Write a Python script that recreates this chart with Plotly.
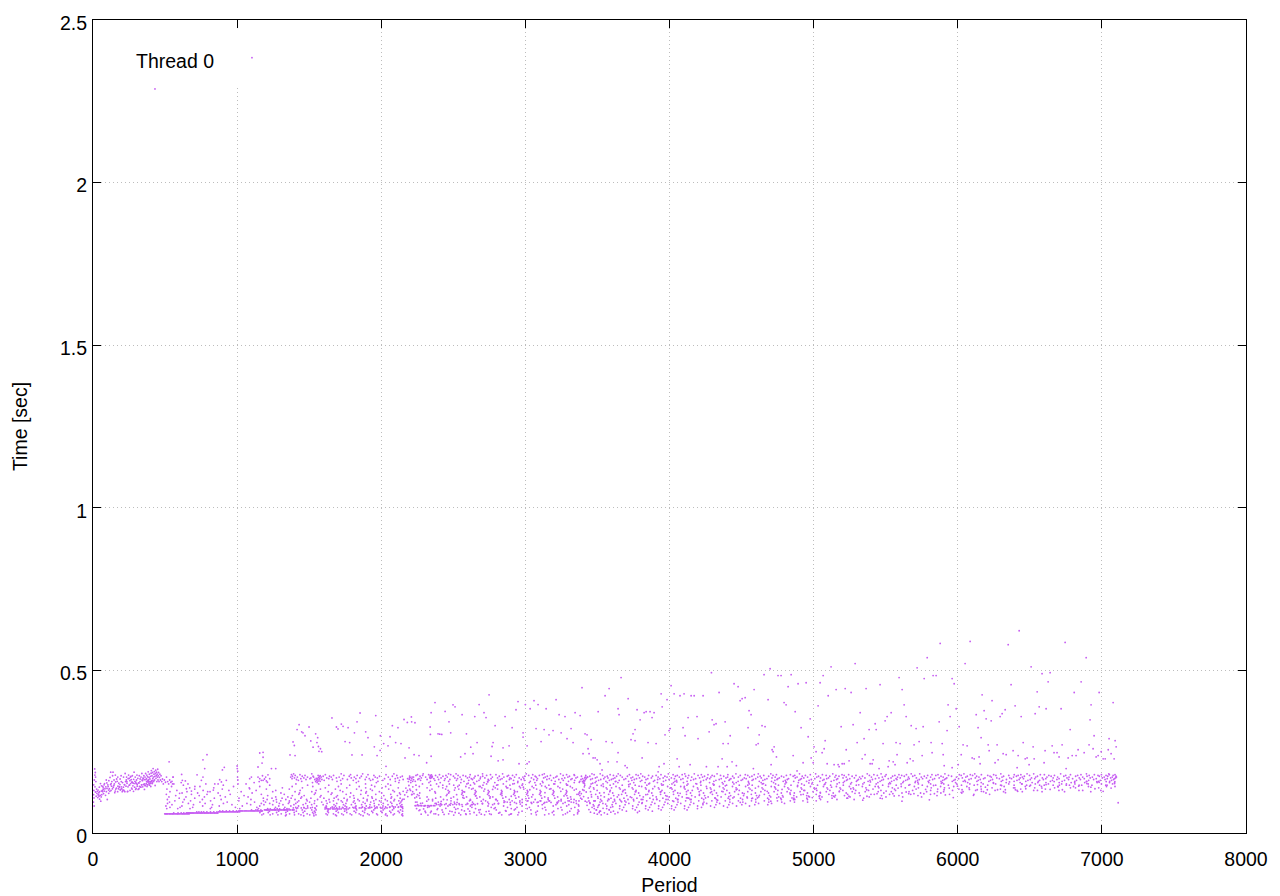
import plotly.graph_objects as go

# --- values ---
isolated_high = [(430, 2.288), (1103, 2.384)]

sparse_above_band = [
(528,.219),(791,.241),(763,.225),(1157,.246),(1180,.248),(1180,.233),(1173,.215),(1145,.203),(1367,.240),(1402,.238),
(1388,.280),(1397,.269),(1430,.333),(1416,.318),(1448,.311),(1457,.308),(1471,.299),(1499,.326),(1511,.283),(1527,.264),
(1545,.305),(1559,.293),(1554,.278),(1564,.266),(1568,.251),(1587,.250),(1578,.259),(1658,.354),(1689,.326),(1700,.320),
(1723,.335),(1735,.328),(1770,.324),(1749,.281),(1781,.278),(1797,.240),(1814,.308),(1832,.342),(1853,.369),(1867,.240),
(1892,.311),(1908,.293),(1952,.265),(1962,.361),(1971,.238),(1994,.299),(1992,.254),(2017,.275),(2033,.205),(2047,.268),
(2061,.296),(2077,.330),(2100,.278),(2116,.324),(2137,.275),(2158,.349),(2165,.231),(2181,.340),(2193,.262),(2209,.357),
(2211,.342),(2228,.241),(2234,.339),(2262,.238),(2315,.216),(2339,.326),(2341,.303),(2346,.236),(2346,.370),(2373,.401),
(2394,.305),(2406,.304),(2420,.303),(2443,.374),(2470,.342),(2482,.308),(2498,.394),(2512,.388),(2551,.234),(2561,.364),
(2581,.244),(2591,.305),(2621,.264),(2637,.244),(2649,.358),(2665,.278),(2679,.395),(2713,.370),(2727,.355),(2748,.425),
(2762,.236),(2769,.266),(2776,.278),(2790,.330),(2811,.222),(2845,.262),(2845,.225),(2859,.358),(2887,.268),(2908,.324),
(2935,.379),(2949,.404),(2956,.213),(2984,.308),(2984,.295),(3012,.268),(3012,.213),(3026,.219),(3000,.395),(3033,.382),
(3060,.407),(3074,.321),(3088,.395),(3109,.281),(3130,.318),(3144,.382),(3164,.302),(3192,.315),(3213,.410),(3234,.364),
(3248,.308),(3275,.358),(3289,.290),(3317,.321),(3331,.278),(3345,.370),(3380,.361),(3393,.447),(3400,.244),(3414,.305),
(3428,.302),(3435,.259),(3442,.244),(3456,.287),(3470,.231),(3484,.231),(3498,.225),(3505,.373),(3518,.213),(3532,.194),
(3553,.422),(3560,.281),(3574,.219),(3581,.444),(3602,.278),(3636,.219),(3643,.382),(3643,.247),(3650,.364),(3664,.478),
(3692,.207),(3706,.201),(3713,.413),(3733,.287),(3747,.305),(3761,.318),(3761,.284),(3775,.379),(3796,.348),(3810,.231),
(3824,.370),(3838,.373),(3851,.278),(3865,.373),(3879,.355),(3893,.370),(3907,.275),(3921,.188),(3928,.204),(3942,.428),
(3949,.388),(3962,.213),(3969,.302),(3983,.410),(3997,.315),(4004,.321),(4011,.453),(4032,.428),(4053,.228),(4067,.204),
(4073,.422),(4094,.324),(4101,.428),(4108,.299),(4129,.355),(4143,.210),(4150,.422),(4171,.422),(4191,.358),(4198,.290),
(4233,.422),(4256,.204),(4275,.311),(4291,.493),(4296,.348),(4309,.333),(4323,.336),(4337,.204),(4344,.432),(4365,.228),
(4372,.275),(4386,.342),(4400,.204),(4407,.275),(4421,.299),(4434,.219),(4448,.459),(4464,.207),(4476,.450),(4490,.407),
(4504,.413),(4525,.416),(4545,.324),(4552,.376),(4566,.364),(4582,.198),(4587,.441),(4601,.271),(4615,.275),(4622,.302),
(4642,.330),(4656,.487),(4663,.327),(4684,.410),(4698,.505),(4705,.210),(4712,.256),(4719,.250),(4726,.265),(4742,.234),
(4753,.484),(4774,.484),(4795,.401),(4809,.394),(4823,.450),(4844,.487),(4858,.238),(4872,.373),(4885,.191),(4892,.459),
(4913,.324),(4927,.216),(4948,.462),(4962,.296),(4976,.351),(4983,.231),(4997,.216),(5003,.265),(5017,.250),(5031,.391),
(5045,.462),(5059,.247),(5066,.484),(5073,.259),(5080,.284),(5094,.213),(5101,.422),(5121,.511),(5142,.210),(5156,.441),
(5170,.210),(5177,.204),(5191,.327),(5198,.213),(5212,.213),(5219,.444),(5226,.256),(5246,.222),(5260,.432),(5274,.333),
(5288,.521),(5302,.278),(5323,.370),(5337,.228),(5350,.290),(5357,.241),(5364,.444),(5385,.318),(5392,.213),(5406,.213),
(5413,.225),(5427,.336),(5434,.318),(5454,.198),(5461,.456),(5482,.275),(5496,.345),(5510,.358),(5517,.204),(5524,.222),
(5538,.370),(5552,.219),(5565,.210),(5572,.278),(5579,.241),(5593,.478),(5600,.275),(5614,.441),(5628,.394),(5642,.358),
(5649,.216),(5670,.228),(5677,.330),(5690,.222),(5697,.271),(5711,.321),(5718,.508),(5732,.281),(5753,.238),(5760,.327),
(5767,.475),(5788,.539),(5815,.278),(5822,.247),(5829,.484),(5850,.484),(5871,.342),(5878,.583),(5892,.275),(5899,.241),
(5906,.207),(5926,.315),(5933,.394),(5947,.358),(5961,.475),(5961,.201),(5975,.459),(5989,.382),(6003,.210),(6010,.327),
(6024,.241),(6037,.271),(6051,.521),(6065,.268),(6086,.589),(6100,.231),(6114,.228),(6128,.364),(6141,.324),(6148,.234),
(6155,.213),(6162,.293),(6169,.425),(6183,.376),(6197,.351),(6211,.271),(6218,.253),(6232,.345),(6238,.407),(6259,.216),
(6273,.271),(6280,.225),(6294,.358),(6308,.367),(6315,.244),(6329,.379),(6336,.241),(6350,.579),(6370,.456),(6384,.253),
(6398,.391),(6412,.201),(6419,.238),(6426,.622),(6440,.358),(6454,.278),(6468,.228),(6481,.231),(6495,.210),(6509,.511),
(6523,.265),(6530,.228),(6537,.367),(6551,.434),(6565,.388),(6585,.490),(6599,.216),(6606,.253),(6613,.382),(6627,.465),
(6641,.493),(6655,.268),(6668,.247),(6689,.247),(6703,.234),(6717,.382),(6724,.271),(6745,.586),(6752,.198),(6766,.231),
(6780,.318),(6794,.238),(6808,.432),(6821,.238),(6835,.256),(6856,.465),(6877,.247),(6891,.539),(6911,.271),(6918,.348),
(6925,.394),(6939,.259),(6946,.299),(6960,.234),(6974,.238),(6981,.432),(6995,.250),(7009,.228),(7023,.228),(7044,.256),
(7050,.290),(7064,.244),(7078,.401),(7085,.228),(7092,.284),(7099,.265),(7113,.093),
]

early_cloud = [
(3,.095),(4,.118),(6,.131),(7,.108),(8,.083),(5,.148),(9,.163),(12,.197),(13,.178),(16,.186),(18,.172),(20,.158),(14,.142),(17,.126),(22,.113),
(25,.135),(27,.122),(29,.128),(36,.117),(33,.109),(35,.132),(41,.124),(38,.119),(45,.127),(42,.113),(44,.141),(46,.104),(58,.129),(50,.116),(52,.152),
(54,.098),(65,.131),(57,.111),(59,.145),(61,.118),(72,.134),(68,.143),(67,.127),(80,.152),(71,.139),(73,.121),(92,.163),(77,.148),(79,.129),(118,.171),
(83,.136),(96,.154),(87,.116),(89,.142),(110,.161),(93,.127),(103,.148),(97,.137),(99,.103),(126,.152),(108,.132),(105,.143),(131,.158),(109,.122),(136,.176),
(113,.136),(122,.149),(117,.128),(146,.163),(141,.141),(123,.187),(125,.131),(157,.157),(129,.144),(151,.124),(164,.166),(135,.136),(148,.151),(139,.187),(154,.129),
(172,.172),(145,.146),(158,.135),(168,.159),(171,.127),(183,.142),(155,.178),(191,.133),(179,.153),(188,.166),(163,.138),(203,.127),(187,.149),(196,.158),(213,.132),
(173,.144),(212,.172),(177,.136),(221,.127),(205,.155),(183,.141),(231,.163),(218,.149),(189,.133),(241,.128),(226,.158),(195,.176),(197,.142),(199,.136),(244,.167),
(236,.153),(252,.147),(207,.132),(256,.161),(211,.141),(263,.174),(273,.156),(217,.129),(219,.148),(268,.138),(223,.183),(282,.165),(291,.152),(229,.144),(296,.134),
(233,.172),(235,.158),(307,.149),(239,.127),(302,.163),(243,.142),(316,.154),(247,.178),(319,.136),(251,.168),(253,.147),(326,.158),(257,.131),(259,.172),(261,.152),
(331,.141),(265,.164),(338,.148),(269,.156),(271,.135),(273,.176),(343,.161),(277,.145),(279,.153),(281,.128),(349,.168),(285,.187),(356,.151),(289,.141),(291,.159),
(293,.172),(361,.146),(297,.156),(299,.137),(367,.164),(303,.152),(305,.178),(307,.144),(372,.158),(311,.168),(376,.149),(313,.134),(381,.162),(319,.154),(321,.176),
(323,.143),(386,.159),(327,.166),(391,.151),(331,.141),(333,.172),(396,.157),(337,.148),(339,.183),(341,.163),(401,.153),(345,.142),(347,.169),(407,.158),(351,.149),
(353,.176),(355,.164),(357,.134),(412,.154),(361,.172),(363,.146),(365,.183),(416,.161),(369,.152),(371,.167),(373,.178),(375,.143),(377,.157),(379,.173),(381,.148),
(383,.188),(385,.163),(387,.154),(389,.171),(391,.181),(393,.147),(395,.166),(397,.158),(399,.174),(401,.143),(403,.184),(405,.192),(407,.161),(409,.176),(411,.152),
(413,.186),(415,.167),(417,.198),(419,.172),(421,.158),(423,.181),(425,.189),(427,.163),(429,.174),(431,.146),(433,.183),(435,.193),(437,.168),(439,.176),(441,.187),
(443,.158),(445,.181),(447,.172),(449,.196),(451,.163),(453,.176),(455,.186),(458,.158),(461,.171),(464,.181),(468,.163),(472,.176),(477,.158),(482,.166),(488,.151),
(495,.163),(503,.156),(510,.172),(518,.158),(525,.151),(532,.163),(540,.156),(548,.159),(552,.151),(556,.172),
]

early_scatter = [
(1000,.206),(1001,.198),(1004,.19),(1006,.151),(898,.194),(911,.202),(775,.198),(763,.172),(752,.162),(722,.179),(659,.151),(641,.16),(620,.162),(615,.18),(555,.172),
(1145,.172),(1168,.162),(1198,.172),(1226,.167),(1238,.198),(1268,.198),(1214,.179),(1157,.167),(1180,.162),(1203,.16),(1087,.167),(1099,.172),(1087,.136),(879,.164),(891,.157),
(868,.151),(845,.151),(925,.162),(1176,.176),(1190,.166),(1153,.158),(1210,.156),(1003,.172),(1005,.163),(835,.132),(796,.127),(707,.143),(683,.129),(648,.136),(601,.122),
]

dense_spots = [
(1545,.158),(1552,.162),(1558,.166),(1564,.170),(1571,.173),(1561,.159),(1549,.168),(1576,.176),(1568,.163),(1555,.155),
(2188,.158),(2194,.165),(2200,.171),(2206,.162),(2212,.167),(2218,.159),(2197,.175),(2205,.155),(2214,.172),(2224,.164),
(2336,.172),(2340,.177),(2345,.174),(2350,.170),(2342,.168),(2348,.179),(2354,.173),
(3396,.158),(3402,.154),(3407,.157),(3412,.161),(3418,.165),(3424,.169),(3430,.172),(3404,.161),(3410,.152),(3416,.172),
]

# points around the two narrow breaks in the low band, and loose points through the band
break_fill = [
(2152,.128),(2163,.117),(2171,.138),(2158,.104),(2176,.125),(2184,.112),(2192,.146),(2203,.131),(2211,.118),(2219,.142),(2227,.121),(2233,.108),(2244,.133),(2238,.095),(2251,.118),
(2262,.069),(2277,.058),(2286,.092),(2294,.074),(2308,.063),(2316,.098),(2324,.055),(2333,.081),(2347,.067),(2356,.103),(2366,.059),(2374,.091),(2388,.072),(2397,.056),(2408,.083),
(2416,.097),(2427,.064),(2436,.057),(2448,.076),(2457,.102),(2468,.059),(2479,.086),(2491,.066),(2503,.055),(2517,.073),(2526,.094),(2539,.061),(2551,.056),(2563,.082),(2577,.068),
(2589,.057),(2602,.074),(2616,.059),(2631,.087),(2644,.063),(2662,.055),(2687,.072),(2694,.058),(2728,.066),(2763,.057),(2791,.078),(2815,.061),(2862,.069),(2897,.058),(2931,.074),
(3388,.121),(3392,.104),(3398,.133),(3404,.112),(3409,.142),(3415,.098),(3422,.126),(3428,.085),(3436,.108),(3441,.072),(3447,.093),(3452,.064),(3458,.118),(3463,.079),(3471,.087),
(3478,.061),(3484,.099),(3493,.071),(3499,.058),(3507,.084),(3516,.067),(3526,.056),(3539,.076),(3548,.062),(3557,.089),(3569,.058),(3581,.072),(3593,.064),(3606,.081),(3622,.059),
]

loose_band_points = [
(2508,.132),(2523,.118),(2541,.147),(2566,.109),(2578,.126),(2603,.153),(2619,.101),(2637,.137),(2655,.114),(2679,.143),(2694,.098),(2712,.129),(2739,.157),(2756,.111),(2773,.134),
(2794,.103),(2809,.148),(2836,.121),(2858,.096),(2871,.139),(2902,.113),(2923,.152),(2944,.127),(2965,.089),(2986,.141),(3004,.106),(3031,.133),(3052,.118),(3066,.155),(3089,.095),
(3113,.145),(3136,.124),(3158,.108),(3177,.136),(3204,.151),(3221,.091),(3246,.128),(3268,.114),(3293,.147),(3317,.104),(3339,.132),(3358,.119),(3374,.156),(3443,.138),(3467,.153),
(3502,.112),(3527,.146),(3546,.124),(3576,.104),(3598,.139),(3624,.158),(3647,.117),(3668,.096),(3691,.133),(3717,.149),(3738,.109),(3763,.127),(3789,.144),(3811,.093),(3836,.118),
(3862,.153),(3884,.136),(3911,.104),(3936,.126),(3957,.148),(3983,.113),(4006,.139),(4029,.097),(4051,.157),(4074,.122),(4103,.143),(4126,.108),(4158,.131),(4183,.152),(4207,.116),
(4232,.091),(4259,.137),(4284,.124),(4309,.149),(4334,.101),(4363,.128),(4387,.145),(4412,.112),(4439,.156),(4463,.133),(4491,.094),(4518,.121),(4543,.147),(4571,.106),(4596,.138),
(4624,.116),(4652,.152),(4678,.128),(4703,.098),(4729,.142),(4758,.111),(4781,.134),(4807,.157),(4836,.123),(4861,.103),(4889,.146),(4912,.118),(4938,.131),(4967,.154),(4991,.109),
(5018,.137),(5046,.125),(5074,.149),(5097,.096),(5124,.141),(5151,.116),(5179,.129),(5206,.155),(5231,.107),(5258,.136),(5287,.122),(5313,.148),(5341,.101),(5368,.133),(5394,.157),
(5421,.119),(5448,.143),(5476,.106),(5503,.129),(5533,.152),(5559,.114),(5586,.138),(5613,.098),(5642,.126),(5668,.149),(5696,.121),(5723,.156),(5749,.111),(5777,.134),(5803,.102),
(5832,.146),(5859,.127),(5886,.153),(5914,.117),(5941,.138),(5969,.109),(5998,.144),(6024,.125),(6053,.158),(6081,.134),(6109,.116),(6137,.149),(6164,.128),(6192,.141),(6221,.119),
(6248,.153),(6276,.133),(6304,.146),(6331,.124),(6359,.157),(6387,.139),(6416,.128),(6444,.151),(6472,.136),(6499,.144),(6527,.131),(6556,.155),(6584,.138),(6613,.149),(6641,.134),
(6669,.158),(6697,.142),(6726,.133),(6754,.151),(6782,.139),(6811,.156),(6839,.144),(6867,.131),(6896,.152),(6924,.141),(6952,.136),(6981,.156),(7009,.128),(7036,.147),(7064,.138),(7088,.152),
]

streak_levels = {
.059:[498,503,507,511,516,521,528,533,537,543,549,553,558,564,571,577,583,587,592,598,604,611,618,623,629,635,641,648,655,661,668],
.0615:[560,590,612,630,648,655,662,669,676,682,689,695,701,708,715,722,728,735,742,748,755,762,770,776,783,790,797,804,812,818,825,832,840,846,853,860,866],
.065:[720,735,752,768,790,815,838,860,872,878,885,892,899,905,912,918,925,932,939,946,954,961,968,975,982,988,995,1002,1010,1018],
.068:[880,900,925,948,972,996,1012,1019,1026,1033,1040,1049,1058,1066,1075,1083,1092,1100,1108,1115,1122,1131,1140,1149,1158,1166,1175],
.071:[1100,1130,1165,1190,1198,1205,1213,1220,1229,1238,1245,1252,1260,1268,1277,1285,1293,1302,1310,1318,1326,1335,1342,1350,1361,1372,1384,1395],
.074:[1230,1260,1295,1325,1360,1610,1628,1636,1645,1662,1671,1680,1700,1711,1722,1744,1770],
.077:[1390,1420,1445,1465,1490,1510,1540,1650,1690,1735,1780,1810,1822,1848,1860,1885,1910,1921,1958,1971,1997,2010,2040],
.08:[1620,1660,1710,1760,1820,1870,1920,1970,2030,2060,2085,2097,2120,2139,2148],
.084:[2235,2241,2255,2262,2275,2281,2300,2307,2322,2330,2342,2349,2363,2372],
.0875:[2385,2400,2418,2440,2473,2497,2522,2560,2588,2626],
.09:[2412,2450,2510,2540,2600,2640,2668,2702,2745,2785,2812],
.094:[2852,2895,2925,2978,3040,3082,3135,3178,3220,3276,3335],
.0985:[3012,3107,3164,3248,3305,3372,3441,3475,3530,3620,3690],
.103:[3580,3655,3750,3815,3912,3990,4055,4150],
.108:[4118,4250,4315,4440,4540,4610,4745,4850],
.113:[4965,5038,5140,5245,5370],
.121:[5440,5550,5660,5765,5838],
.133:[5905,6030,6135,6205,6330,6400],
.147:[6505,6600,6705,6775,6860],
.158:[6895,6965,7030,7090],
}

band_rows = {
.182:[1392,1518,1722,1871,2088,2291,2467,2519,2703,2842,3006,3131,3244,3462,3519,3644,3801,3992,4106,4172,4330,4461,4616,4703,4902,5014,5133,5372,5468,5677,5736,5911,6043,6118,6299,6481,6527,6714,6893,7048],
.1795:[1377,1436,1612,1787,1908,2033,2251,2329,2404,2482,2617,2758,2796,2937,3051,3118,3286,3338,3477,3588,3722,3768,3941,4025,4088,4221,4267,4405,4526,4588,4742,4839,4977,5061,5197,5243,5418,5503,5592,5644,5821,5863,6011,6087,6164,6249,6392,6438,6573,6601,6782,6855,6948,6997,7052,7091],
.177:[1403,1471,1562,1669,1741,1833,1949,2108,2241,2287,2377,2449,2533,2568,2672,2731,2883,2911,3023,3097,3174,3262,3341,3419,3536,3611,3659,3783,3855,3907,4054,4133,4198,4296,4354,4491,4543,4654,4718,4811,4869,4943,5087,5155,5212,5294,5387,5442,5564,5611,5702,5791,5848,5936,6024,6103,6208,6265,6354,6419,6498,6632,6671,6749,6832,6912,6973,7029,7078],
.1745:[1384,1452,1527,1597,1641,1778,1862,1988,2077,2146,2269,2352,2428,2501,2586,2651,2704,2819,2874,2996,3068,3152,3219,3306,3389,3447,3568,3633,3708,3814,3882,3968,4041,4112,4243,4311,4376,4438,4572,4629,4688,4777,4858,4921,5034,5112,5176,5267,5339,5496,5548,5629,5688,5768,5884,5957,6066,6131,6224,6318,6407,6462,6553,6648,6736,6818,6897,6982,7041,7098],
.172:[1372,1418,1488,1531,1583,1653,1708,1813,1897,1958,2049,2133,2224,2308,2391,2458,2547,2612,2689,2771,2851,2925,2983,3076,3138,3211,3295,3361,3432,3497,3552,3672,3745,3828,3921,3983,4068,4154,4229,4287,4403,4478,4556,4612,4733,4793,4885,4958,5022,5148,5226,5319,5401,5477,5582,5658,5747,5812,5899,5991,6056,6147,6233,6307,6387,6448,6541,6619,6693,6772,6867,6934,7016,7072,7101],
.1695:[1398,1463,1512,1622,1689,1792,1851,1973,2114,2196,2278,2338,2415,2511,2598,2644,2719,2807,2893,2957,3042,3127,3196,3273,3351,3412,3486,3573,3621,3733,3792,3874,3956,4013,4127,4209,4263,4392,4448,4519,4637,4711,4762,4873,4932,5048,5103,5204,5283,5356,5453,5537,5601,5713,5783,5871,5924,6032,6122,6189,6271,6361,6433,6512,6587,6662,6758,6843,6919,7003,7061,7095],
.167:[1381,1442,1505,1574,1636,1732,1824,1917,2023,2097,2183,2262,2365,2443,2529,2625,2687,2762,2838,2901,2989,3084,3166,3254,3324,3397,3465,3544,3609,3696,3771,3849,3933,4034,4093,4181,4279,4359,4426,4532,4598,4676,4752,4826,4915,5008,5091,5167,5251,5328,5429,5518,5572,5663,5756,5839,5917,6006,6093,6179,6289,6373,6456,6534,6611,6703,6797,6878,6961,7037,7088],
.1645:[1412,1478,1539,1588,1661,1765,1889,1942,2062,2152,2254,2318,2398,2476,2556,2633,2742,2826,2889,2971,3058,3149,3232,3316,3386,3453,3523,3597,3684,3756,3837,3918,3997,4079,4167,4255,4345,4418,4507,4581,4662,4746,4817,4907,4984,5072,5159,5235,5311,5408,5484,5578,5652,5733,5826,5908,5982,6078,6156,6241,6338,6426,6503,6594,6688,6769,6851,6943,7022,7081],
.162:[1425,1551,1604,1718,1806,1926,2011,2126,2273,2372,2438,2522,2607,2678,2747,2812,2918,2994,3079,3181,3263,3342,3406,3508,3583,3651,3739,3808,3897,3974,4049,4148,4236,4322,4413,4497,4573,4648,4731,4803,4897,4969,5063,5141,5228,5303,5391,5472,5558,5639,5721,5804,5896,5973,6049,6142,6227,6312,6411,6487,6568,6657,6741,6824,6908,6989,7067],
.159:[1448,1576,1693,1842,1977,2098,2236,2341,2467,2574,2663,2738,2869,2948,3034,3118,3207,3299,3378,3491,3559,3628,3716,3798,3889,3958,4038,4122,4217,4308,4383,4476,4547,4623,4708,4789,4862,4951,5043,5122,5214,5297,5378,5461,5541,5624,5707,5795,5884,5962,6038,6133,6216,6302,6391,6472,6559,6643,6724,6812,6893,6976,7054],
.155:[612,1118,1523,1827,1966,2122,2331,2409,2552,2641,2713,2788,2947,3027,3122,3243,3339,3484,3569,3642,3752,3831,3916,4028,4097,4215,4278,4366,4463,4549,4636,4722,4811,4894,4992,5084,5178,5263,5351,5446,5528,5619,5704,5799,5893,5985,6069,6163,6247,6336,6433,6516,6612,6704,6787,6881,6967,7053,7088],
.151:[561,783,1062,1408,1566,1722,1891,2047,2286,2384,2473,2594,2648,2731,2847,2913,2981,3104,3197,3284,3456,3539,3611,3727,3856,3944,4017,4128,4189,4302,4372,4447,4553,4644,4736,4802,4917,4988,5079,5163,5257,5342,5434,5521,5607,5727,5812,5903,5993,6084,6176,6263,6354,6446,6538,6629,6721,6813,6905,6997,7074],
.147:[627,904,1226,1489,1636,1781,1933,2065,2241,2343,2427,2503,2619,2706,2801,2893,2977,3072,3163,3288,3412,3497,3588,3672,3762,3843,3948,4036,4121,4218,4307,4396,4484,4574,4667,4756,4843,4935,5027,5118,5206,5296,5388,5479,5573,5661,5754,5847,5935,6026,6114,6208,6297,6391,6478,6568,6662,6753,6842,6931,7027],
.143:[545,742,975,1157,1382,1525,1703,1847,1955,2031,2264,2398,2454,2531,2587,2687,2779,2866,2959,3047,3138,3226,3312,3451,3541,3629,3718,3807,3897,3987,4078,4166,4256,4347,4437,4528,4617,4706,4798,4888,4978,5068,5158,5248,5338,5427,5519,5608,5699,5789,5881,5972,6063,6161,6322,6469,6581,6694,6803,6907,7032,7091],
.139:[671,838,1084,1314,1453,1612,1761,1892,2006,2118,2318,2427,2513,2609,2698,2791,2878,2966,3058,3147,3239,3326,3473,3561,3652,3741,3833,3923,4012,4102,4194,4283,4372,4462,4551,4642,4733,4821,4913,5004,5093,5183,5274,5363,5453,5546,5636,5727,5816,5908,6079,6238,6396,6534,6672,6817,6978],
.135:[513,706,897,1203,1362,1578,1682,1829,1925,2052,2198,2352,2447,2538,2627,2718,2807,2897,2989,3078,3168,3259,3353,3476,3567,3658,3747,3838,3928,4018,4108,4198,4288,4379,4469,4559,4649,4738,4828,4918,5008,5098,5188,5278,5412,5561,5711,5861,6008,6163,6296,6437,6608],
.131:[582,764,943,1132,1268,1437,1548,1715,1861,1938,2081,2182,2337,2464,2561,2652,2742,2834,2923,3013,3102,3193,3284,3407,3498,3589,3679,3768,3858,3948,4038,4129,4218,4311,4398,4484,4572,4662,4752,4843,4932,5022,5113,5203,5292,5381,5467,5568,5687,5812,5964,6124,6259,6412,6553,6702,6841,6993],
.127:[534,652,812,1028,1247,1402,1518,1632,1733,1897,1987,2091,2218,2372,2473,2568,2658,2749,2838,2927,3017,3108,3198,3288,3378,3452,3586,3675,3766,3856,3941,4027,4118,4206,4292,4371,4452,4543,4634,4726,4816,4906,4996,5088,5178,5268,5358,5448,5539,5662,5784,5902,6037,6179,6318,6448,6585,6741,6923],
.123:[618,726,868,1104,1304,1433,1543,1658,1788,1893,2003,2127,2267,2376,2468,2562,2652,2743,2833,2923,3014,3103,3194,3284,3373,3515,3606,3695,3786,3877,3966,4057,4146,4236,4326,4416,4506,4596,4687,4776,4866,4957,5047,5136,5226,5316,5487,5613,5742,5883,6028,6196],
.119:[509,683,791,952,1168,1327,1428,1536,1652,1757,1858,1962,2066,2133,2214,2457,2558,2647,2738,2828,2918,3008,3098,3188,3278,3368,3488,3578,3668,3758,3848,3938,4028,4118,4208,4298,4388,4478,4568,4658,4748,4838,4928,5018,5106,5236,5398,5527,5674,5811,5943,6112],
.115:[574,737,883,1048,1212,1383,1465,1582,1696,1808,1908,2018,2112,2262,2452,2568,2657,2748,2838,2928,3018,3108,3198,3288,3378,3524,3613,3704,3794,3884,3974,4064,4154,4244,4334,4424,4514,4604,4694,4784,4863,4952,5043,5127,5214,5322,5471,5592,5724,5856],
.111:[527,645,773,918,1076,1268,1352,1448,1576,1688,1783,1935,2072,2245,2318,2412,2502,2592,2684,2774,2864,2954,3044,3134,3224,3314,3459,3548,3638,3728,3818,3908,3998,4088,4178,4268,4358,4448,4538,4619,4702,4788,4882,4971,5058,5146,5253,5386,5502,5618],
.107:[598,706,842,1013,1182,1242,1312,1375,1442,1512,1602,1673,1742,1812,1876,1938,2002,2068,2131,2268,2378,2484,2574,2664,2754,2844,2934,3024,3114,3204,3294,3384,3504,3594,3684,3774,3864,3954,4044,4134,4224,4318,4407,4493,4576,4681,4772,4863,4953,5041,5128,5236,5347,5462],
.103:[516,633,759,889,1096,1208,1272,1338,1402,1482,1558,1638,1702,1764,1838,1902,1963,2028,2092,2147,2328,2432,2528,2618,2708,2798,2888,2978,3068,3158,3248,3338,3522,3618,3712,3804,3887,3976,4059,4143,4237,4326,4418,4507,4598,4689,4776,4869,4957,5048,5162,5281],
.099:[568,677,816,1012,1183,1252,1303,1363,1428,1486,1538,1618,1668,1722,1762,1812,1848,1902,1948,1988,2042,2088,2122,2142,2356,2484,2612,2724,2806,2852,2908,2962,3018,3102,3168,3232,3296,3352,3482,3571,3662,3752,3842,3932,4022,4112,4203,4294,4387,4478,4569,4658,4749,4838,4926,5018],
.095:[531,623,742,931,1121,1197,1274,1362,1418,1503,1587,1643,1731,1806,1874,1927,1999,2065,2136,2248,2396,2507,2633,2739,2874,2961,3057,3149,3226,3318,3427,3518,3608,3698,3789,3879,3969,4059,4149,4239,4329,4419,4509,4599,4689,4779,4867,4958],
.091:[517,662,778,905,1068,1168,1226,1293,1356,1407,1476,1536,1624,1691,1755,1819,1888,1951,2014,2073,2128,2273,2381,2483,2597,2702,2814,2938,3044,3128,3261,3354,3448,3538,3628,3718,3808,3898,3988,4078,4168,4258,4348,4438,4528,4618,4708,4798],
.087:[548,697,829,964,1094,1186,1247,1318,1394,1458,1517,1597,1672,1738,1793,1864,1922,1983,2047,2109,2143,2252,2418,2543,2651,2773,2896,3006,3117,3212,3301,3368,3512,3602,3692,3782,3872,3962,4052,4142,4232,4322,4412,4502,4592,4682],
.083:[506,617,761,876,1036,1157,1289,1373,1426,1489,1552,1618,1683,1749,1825,1896,1953,2012,2076,2134,2297,2463,2618,2741,2849,2977,3089,3193,3287,3371,3476,3565,3655,3745,3835,3925,4015,4105,4195,4285,4375,4465,4555],
.079:[534,604,692,823,988,1137,1266,1331,1407,1463,1522,1611,1673,1731,1803,1868,1934,1994,2058,2118,2145,2322,2507,2629,2763,2876,2942,3028,3136,3247,3343,3502,3592,3682,3772,3862,3952,4042,4132,4222,4312,4402],
.075:[512,588,673,814,1018,1148,1212,1278,1346,1412,1478,1543,1618,1692,1755,1825,1893,1956,2024,2087,2149,2245,2392,2532,2654,2783,2902,3013,3119,3226,3318,3478,3564,3654,3744,3834,3924,4014,4104,4194],
.071:[1142,1207,1263,1327,1388,1452,1518,1548,1632,1695,1758,1829,1887,1948,2013,2078,2134,2268,2422,2558,2677,2798,2923,3038,3142,3254,3366,3492,3582,3672,3762,3852,3942,4032,4122],
.067:[1169,1224,1288,1349,1411,1469,1536,1628,1687,1746,1812,1871,1934,1998,2059,2117,2148,2304,2476,2613,2747,2866,2977,3083,3196,3308,3371,3521,3611,3701,3791,3881],
.063:[1158,1216,1274,1338,1396,1458,1524,1542,1633,1702,1761,1823,1884,1941,2006,2067,2126,2342,2513,2681,2823,2954,3072,3187,3292,3363,3512,3642,3778],
.059:[1183,1247,1306,1364,1427,1486,1531,1617,1668,1726,1784,1847,1905,1968,2032,2091,2147,2378,2586,2752,2903,3041,3163,3278,3362],
.056:[1172,1229,1283,1341,1398,1443,1504,1547,1626,1682,1737,1795,1858,1916,1974,2029,2083,2142,2717,2836,2887,2948,3076,3134,3198,3261,3337],
.053:[1336,1462,1533,1689,1874,2041,2149],
}

# --- flatten the readings into the plotted columns ---
period, time = [], []
for pts in (isolated_high, sparse_above_band, early_cloud, early_scatter, dense_spots, break_fill, loose_band_points):
    for pt in pts:
        period.append(pt[0]); time.append(pt[1])
for table in (streak_levels, band_rows):
    for level, xs in table.items():
        for x in xs:
            period.append(x); time.append(level)

x_ticks = [0, 1000, 2000, 3000, 4000, 5000, 6000, 7000, 8000]
y_ticks = [0, 0.5, 1, 1.5, 2, 2.5]
y_labels = ["0", "0.5", "1", "1.5", "2", "2.5"]

FONT = "Liberation Sans, Arial, sans-serif"

fig = go.Figure(go.Scatter(
    x=period, y=time, mode="markers", name="Thread 0",
    marker=dict(size=1.8, color="#c65cf2", line=dict(width=0)),
    showlegend=False, hoverinfo="x+y",
))

axis_common = dict(
    showline=True, linecolor="black", linewidth=1, mirror="ticks", automargin=False,
    ticks="inside", ticklen=8, tickwidth=1, tickcolor="black",
    showgrid=True, gridcolor="#bdbdbd", gridwidth=1, griddash="1px,3px",
    zeroline=False, tickfont=dict(family=FONT, size=19.5, color="black"),
)

fig.update_layout(
    width=1280, height=896, autosize=False,
    margin=dict(l=93, r=34, t=20, b=63, pad=0),
    paper_bgcolor="white", plot_bgcolor="white",
    font=dict(family=FONT, size=19.5, color="black"),
    xaxis=dict(range=[0, 8000], tickmode="array", tickvals=x_ticks, ticktext=[str(v) for v in x_ticks],
               ticklabelstandoff=9,
               title=dict(text="Period", standoff=9, font=dict(family=FONT, size=19.5)), **axis_common),
    yaxis=dict(range=[0, 2.5], tickmode="array", tickvals=y_ticks, ticktext=y_labels,
               ticklabelshift=3, ticklabelstandoff=1,
               title=dict(text="Time [sec]", standoff=27, font=dict(family=FONT, size=19.5)), **axis_common),
    annotations=[dict(x=296, y=2.375, xref="x", yref="y", text="Thread 0", showarrow=False,
                      xanchor="left", yanchor="middle", xshift=-2, font=dict(family=FONT, size=19.5, color="black"))],
    shapes=[dict(type="line", layer="between", x0=1000, x1=1000, y0=2.3, y1=2.475, xref="x", yref="y",
                 line=dict(color="white", width=2))],
)

fig.write_html("out.html", config={"displayModeBar": False}, post_script="document.body.style.margin='0';")
